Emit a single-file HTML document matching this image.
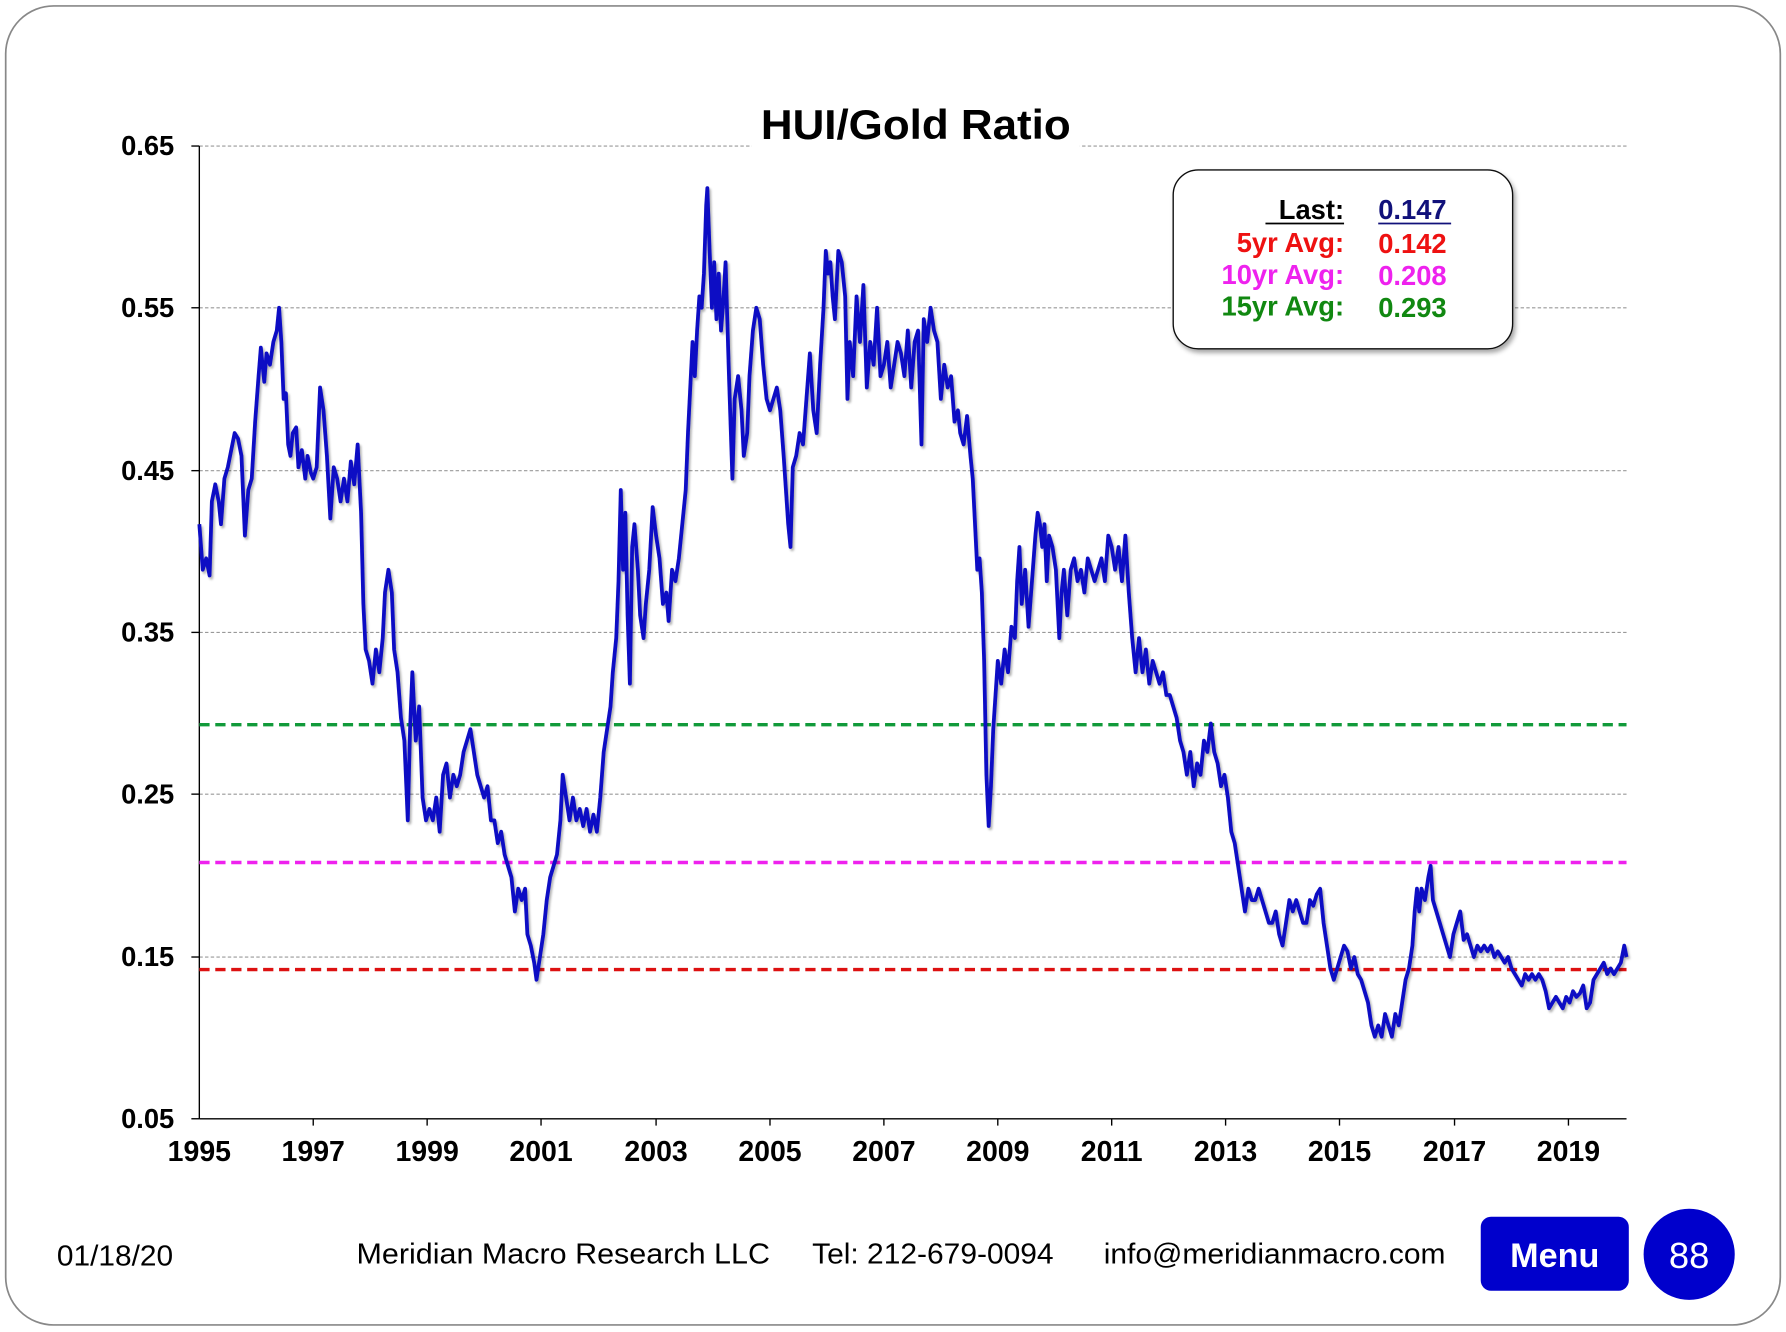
<!DOCTYPE html>
<html><head><meta charset="utf-8"><style>
html,body{margin:0;padding:0;background:#fff;}
svg{display:block;}
text{font-family:"Liberation Sans",Arial,sans-serif;}
</style></head><body>
<svg width="1786" height="1332" viewBox="0 0 1568 1169" xmlns="http://www.w3.org/2000/svg">
<defs>
<filter id="sh" x="-10%" y="-10%" width="130%" height="130%"><feDropShadow dx="2" dy="3" stdDeviation="2" flood-color="#000" flood-opacity="0.35"/></filter>
<filter id="ls" x="-5%" y="-5%" width="110%" height="110%"><feDropShadow dx="1.5" dy="2" stdDeviation="1" flood-color="#000" flood-opacity="0.3"/></filter>
</defs>
<rect x="0" y="0" width="1568" height="1169" fill="#fff"/>
<rect x="5" y="5" width="1558" height="1158" rx="42" fill="#fff" stroke="#888" stroke-width="1.5"/>
<g stroke="#999" stroke-width="1" stroke-dasharray="3,2">
<line x1="175" y1="128" x2="1428" y2="128"/>
<line x1="175" y1="270" x2="1428" y2="270"/>
<line x1="175" y1="413" x2="1428" y2="413"/>
<line x1="175" y1="555" x2="1428" y2="555"/>
<line x1="175" y1="697" x2="1428" y2="697"/>
<line x1="175" y1="840" x2="1428" y2="840"/>
</g>
<rect x="660" y="100" width="288" height="40" fill="#fff"/>
<line x1="175" y1="128" x2="175" y2="982" stroke="#000" stroke-width="1.2"/>
<line x1="175" y1="982" x2="1428" y2="982" stroke="#000" stroke-width="1.2"/>
<g stroke="#000" stroke-width="1.2">
<line x1="168" y1="128" x2="175" y2="128"/><line x1="168" y1="270" x2="175" y2="270"/><line x1="168" y1="413" x2="175" y2="413"/><line x1="168" y1="555" x2="175" y2="555"/><line x1="168" y1="697" x2="175" y2="697"/><line x1="168" y1="840" x2="175" y2="840"/><line x1="168" y1="982" x2="175" y2="982"/>
<line x1="275" y1="982" x2="275" y2="988"/><line x1="375" y1="982" x2="375" y2="988"/><line x1="475" y1="982" x2="475" y2="988"/><line x1="576" y1="982" x2="576" y2="988"/><line x1="676" y1="982" x2="676" y2="988"/><line x1="776" y1="982" x2="776" y2="988"/><line x1="876" y1="982" x2="876" y2="988"/><line x1="976" y1="982" x2="976" y2="988"/><line x1="1076" y1="982" x2="1076" y2="988"/><line x1="1176" y1="982" x2="1176" y2="988"/><line x1="1277" y1="982" x2="1277" y2="988"/><line x1="1377" y1="982" x2="1377" y2="988"/>
</g>
<g font-size="24" font-weight="bold" text-anchor="end">
<text x="153" y="136">0.65</text><text x="153" y="278">0.55</text><text x="153" y="421">0.45</text><text x="153" y="563">0.35</text><text x="153" y="705">0.25</text><text x="153" y="848">0.15</text><text x="153" y="990">0.05</text>
</g>
<g font-size="25" font-weight="bold" text-anchor="middle">
<text x="175" y="1019">1995</text><text x="275" y="1019">1997</text><text x="375" y="1019">1999</text><text x="475" y="1019">2001</text><text x="576" y="1019">2003</text><text x="676" y="1019">2005</text><text x="776" y="1019">2007</text><text x="876" y="1019">2009</text><text x="976" y="1019">2011</text><text x="1076" y="1019">2013</text><text x="1176" y="1019">2015</text><text x="1277" y="1019">2017</text><text x="1377" y="1019">2019</text>
</g>
<text x="668" y="122" font-size="37" font-weight="bold" textLength="272" lengthAdjust="spacingAndGlyphs">HUI/Gold Ratio</text>
<g stroke-width="3" stroke-dasharray="9,5">
<line x1="175" y1="636" x2="1428" y2="636" stroke="#119a3a"/>
<line x1="175" y1="757" x2="1428" y2="757" stroke="#ee22ee"/>
<line x1="175" y1="851" x2="1428" y2="851" stroke="#dd1111"/>
</g>
<polyline filter="url(#ls)" fill="none" stroke="#0a0ac4" stroke-width="3.3" stroke-linejoin="round" points="175,460 178,500 181,490 184,505 186,440 189,425 192,440 194,460 197,420 200,410 203,395 206,380 209,385 212,400 215,470 218,430 221,420 224,370 227,330 229,305 232,335 234,310 237,320 240,300 243,290 245,270 247,300 249,350 251,345 253,390 255,400 257,380 260,375 262,410 265,395 268,420 270,400 273,415 275,420 278,410 281,340 284,360 287,400 290,455 293,410 296,420 299,440 302,420 305,440 308,405 311,425 314,390 317,450 319,530 321,570 324,580 327,600 330,570 333,590 336,560 338,520 341,500 344,520 346,570 349,590 352,630 355,650 358,720 360,640 362,590 365,650 368,620 371,700 374,720 377,710 380,720 383,700 386,730 389,680 392,670 395,700 398,680 401,690 404,680 407,660 410,650 413,640 416,660 419,680 422,690 425,700 428,690 431,720 434,720 437,740 440,730 443,750 446,760 449,770 452,800 455,780 458,790 461,780 463,820 466,830 469,845 471,860 474,840 477,820 480,790 483,770 486,760 489,750 492,720 494,680 497,700 500,720 503,700 506,720 509,710 512,725 515,710 518,730 521,715 524,730 527,700 530,660 533,640 536,620 538,590 541,560 543,510 545,430 547,500 549,450 551,540 553,600 555,480 557,460 560,500 562,540 565,560 567,530 570,500 573,445 576,470 579,490 582,530 585,520 587,545 590,500 593,510 596,490 599,460 602,430 604,380 606,340 608,300 610,330 612,290 614,260 616,270 618,240 620,180 621,165 623,220 625,270 627,230 629,280 631,240 633,290 635,265 637,230 640,330 643,420 645,350 648,330 651,360 653,400 656,380 658,330 661,290 664,270 667,280 670,320 673,350 676,360 679,350 682,340 685,360 688,400 690,430 692,460 694,480 696,410 699,400 702,380 705,390 708,350 711,310 714,360 717,380 720,320 723,270 725,220 727,240 729,230 731,260 733,280 736,220 739,230 742,260 744,350 746,300 749,330 752,260 755,300 758,250 761,340 764,300 767,320 770,270 773,330 776,320 779,300 782,340 785,320 788,300 791,310 794,330 797,290 800,340 803,300 806,290 809,390 811,280 814,300 817,270 820,290 823,300 826,350 829,320 832,340 835,330 838,370 841,360 843,380 846,390 849,365 852,400 854,420 856,460 858,500 860,490 862,520 864,580 866,680 868,725 870,690 872,640 874,610 876,580 879,600 882,570 885,590 888,550 891,560 893,510 895,480 897,530 900,500 903,550 906,510 909,470 911,450 913,460 915,480 917,460 919,510 921,470 924,480 927,500 930,560 932,520 934,500 937,540 940,500 943,490 946,510 949,500 952,520 955,490 958,500 961,510 964,500 967,490 970,510 973,470 976,480 979,500 982,480 985,510 988,470 991,520 994,560 997,590 1000,560 1003,590 1006,570 1009,600 1012,580 1015,590 1018,600 1021,590 1024,610 1027,610 1030,620 1033,630 1036,650 1039,660 1042,680 1045,660 1048,690 1051,670 1054,680 1057,650 1060,660 1063,635 1066,660 1069,670 1072,690 1075,680 1078,700 1081,730 1084,740 1087,760 1090,780 1093,800 1096,780 1099,790 1102,790 1105,780 1108,790 1111,800 1114,810 1117,810 1120,800 1123,820 1126,830 1129,810 1132,790 1135,800 1138,790 1141,800 1144,810 1147,810 1150,790 1153,795 1156,785 1159,780 1162,810 1165,830 1168,850 1171,860 1174,850 1177,840 1180,830 1183,835 1186,850 1189,840 1192,855 1195,860 1198,870 1201,880 1204,900 1207,910 1210,900 1213,910 1216,890 1219,900 1222,910 1225,890 1228,900 1231,880 1234,860 1237,850 1240,830 1242,800 1244,780 1246,800 1248,780 1251,790 1254,770 1256,760 1258,790 1261,800 1264,810 1267,820 1270,830 1273,840 1276,820 1279,810 1282,800 1285,825 1288,820 1291,830 1294,840 1297,830 1300,835 1303,830 1306,835 1309,830 1312,840 1315,835 1318,840 1321,845 1324,840 1327,850 1330,855 1333,860 1336,865 1339,855 1342,860 1345,855 1348,860 1351,855 1354,860 1357,870 1360,885 1363,880 1366,875 1369,880 1372,885 1375,875 1378,880 1381,870 1384,875 1387,872 1390,865 1393,885 1396,880 1399,860 1402,855 1405,850 1408,845 1411,855 1414,850 1417,855 1420,850 1423,845 1426,830 1428,840"/>
<rect x="1030" y="149" width="298" height="157" rx="22" fill="#fff" stroke="#111" stroke-width="1.2" filter="url(#sh)"/>
<g font-size="24" font-weight="bold">
<text x="1180" y="192" text-anchor="end" fill="#000">Last:</text>
<line x1="1111" y1="196" x2="1180" y2="196" stroke="#000" stroke-width="1.6"/>
<text x="1180" y="221" text-anchor="end" fill="#ee1111">5yr Avg:</text>
<text x="1180" y="249" text-anchor="end" fill="#ee22ee">10yr Avg:</text>
<text x="1180" y="277" text-anchor="end" fill="#118811">15yr Avg:</text>
<text x="1210" y="192" fill="#11117a">0.147</text>
<line x1="1210" y1="196" x2="1274" y2="196" stroke="#11117a" stroke-width="1.6"/>
<text x="1210" y="222" fill="#ee1111">0.142</text>
<text x="1210" y="250" fill="#ee22ee">0.208</text>
<text x="1210" y="278" fill="#118811">0.293</text>
</g>
<g font-size="25" fill="#000">
<text x="50" y="1111" textLength="102" lengthAdjust="spacingAndGlyphs">01/18/20</text>
<text x="313" y="1109" textLength="363" lengthAdjust="spacingAndGlyphs">Meridian Macro Research  LLC</text>
<text x="713" y="1109" textLength="212" lengthAdjust="spacingAndGlyphs">Tel: 212-679-0094</text>
<text x="969" y="1109" textLength="300" lengthAdjust="spacingAndGlyphs">info@meridianmacro.com</text>
</g>
<rect x="1300" y="1068" width="130" height="65" rx="9" fill="#0000cc"/>
<text x="1365" y="1112" font-size="30" font-weight="bold" fill="#fff" text-anchor="middle">Menu</text>
<circle cx="1483" cy="1101" r="40" fill="#0000cc"/>
<text x="1483" y="1113" font-size="32" fill="#fff" text-anchor="middle">88</text>
</svg>
</body></html>
